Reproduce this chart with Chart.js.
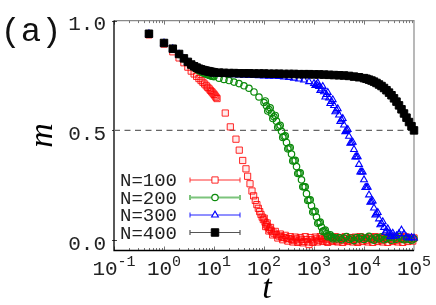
<!DOCTYPE html>
<html><head><meta charset="utf-8">
<script src="https://cdn.jsdelivr.net/npm/chart.js@4/dist/chart.umd.min.js"></script>
<style>html,body{margin:0;padding:0;background:#fff;}canvas{display:block;}</style>
</head><body>
<canvas id="c" width="436" height="305"></canvas>
<script>
// ---------------- data ----------------
const seriesLabels = ['N=100', 'N=200', 'N=300', 'N=400'];

const t100 = [0.5,1,1.5,2,2.5,3,3.5,4,4.5,5,5.5,6,6.5,7,7.5,8,8.5,9,9.5,10,10.5,11,11.5,
  16.8,21.2,27.5,32,37.5,43.6,47,52.5,57.5,62,67,72,77,82,87,92,97,
  105,112,120,130,141,158,178,200,224,251,
  282,316,355,398,447,501,562,631,708,794,
  891,1000,1122,1259,1413,1585,1778,1995,2239,2512,
  2818,3162,3548,3981,4467,5012,5623,6310,7079,7943,
  8913,10000,11220,12590,14130,15850,17780,19950,22390,25120,
  28180,31620,35480,39810,44670,50120,56230,63100,70790,79430,
  89130,100000,
  101,108,116,125,135,149,168,189,212,237,266,299,335,376,
  422,473,531,596,668,750,841,944,1059,1189,1334,1496,1679,1884,2113,2371,2661,2985,3350,3758,
  4217,4732,5309,5957,6683,7499,8414,9441,10593,11885,13338,14965,16788,18836,21135,23714,
  26607,29851,33496,37584,42170,47315,53088,59566,66834,74989,84140,94406];
const m100 = [0.935,0.893,0.858,0.830,0.808,0.788,0.770,0.757,0.746,0.736,0.727,0.719,0.711,0.703,0.696,0.689,0.682,0.676,0.670,0.664,0.657,0.651,0.645,
  0.579,0.516,0.460,0.410,0.363,0.325,0.291,0.257,0.224,0.202,0.181,0.162,0.145,0.130,0.117,0.105,0.094,
  0.082,0.070,0.060,0.050,0.042,0.032,0.025,0.019,0.015,0.012,
  0.009,0.007,0.004,0.000,0.006,-0.004,0.004,-0.006,0.003,-0.020,
  0.002,-0.004,0.006,0.000,0.008,0.002,-0.005,0.006,0.000,0.010,
  -0.003,0.004,0.008,-0.002,0.006,0.000,0.010,0.003,-0.004,0.008,
  0.002,0.006,0.000,0.008,0.003,0.010,0.002,0.006,0.000,0.008,
  0.004,0.010,0.002,0.006,0.000,0.008,0.004,0.010,0.002,0.006,
  0.004,0.010,
  0.100,0.062,0.078,0.042,0.058,0.024,0.040,0.010,0.028,0.002,0.022,-0.004,0.016,-0.008,
  0.014,-0.010,0.012,-0.012,0.016,-0.008,0.012,-0.010,0.014,-0.008,0.016,-0.006,0.012,-0.010,0.014,-0.006,0.016,-0.008,0.012,-0.010,
  0.016,-0.006,0.012,-0.008,0.014,-0.010,0.016,-0.006,0.012,-0.008,0.014,-0.010,0.016,-0.006,0.012,-0.008,
  0.014,-0.010,0.016,-0.006,0.012,-0.008,0.014,-0.010,0.016,-0.006,0.012,-0.004];

const t200 = [0.5,1,1.5,2,2.5,3,3.5,4,4.5,5,5.5,6,6.5,7,7.5,8,8.5,9,9.5,10,
  12.6,15.8,20,25.1,31.6,39.8,50.1,63.1,79.4,
  100,112,126,141,158,178,200,224,251,282,316,355,398,447,501,562,631,708,794,891,
  1000,1122,1259,1413,1585,1778,1995,2239,2512,
  2818,3162,3548,3981,4467,5012,5623,6310,7079,7943,8913,10000,
  11220,12590,14130,15850,17780,19950,22390,25120,28180,31620,
  35480,39810,44670,50120,56230,63100,70790,79430,89130,100000,
  106,119,133,150,168,188,211,237,266,299,335,376,422,473,531,596,668,750,841,944,
  1059,1189,1334,1496,1679,1884,2113,2371];
const m200 = [0.940,0.897,0.871,0.846,0.826,0.809,0.796,0.786,0.778,0.772,0.767,0.763,0.759,0.756,0.753,0.751,0.749,0.747,0.746,0.745,
  0.738,0.732,0.727,0.720,0.713,0.703,0.692,0.675,0.652,
  0.627,0.612,0.595,0.578,0.562,0.542,0.518,0.496,0.472,0.445,0.420,0.392,0.362,0.335,0.306,0.275,0.243,0.212,0.183,0.157,
  0.132,0.105,0.080,0.060,0.043,0.030,0.020,0.015,0.012,
  0.006,0.012,0.002,0.010,0.016,0.004,0.009,-0.002,0.012,0.006,0.014,0.003,
  0.010,0.018,0.005,0.000,0.012,0.007,0.015,0.002,0.008,0.012,
  0.000,0.010,0.004,0.016,0.006,0.002,0.010,0.004,0.000,0.006,
  0.634,0.588,0.603,0.554,0.568,0.514,0.523,0.468,0.475,0.416,0.422,0.361,0.364,0.304,0.307,0.243,0.243,0.181,0.184,0.128,
  0.132,0.077,0.082,0.040,0.046,0.016,0.024,0.006];

const t300 = [0.5,1,1.5,2,2.5,3,3.5,4,4.5,5,5.5,6,6.5,7,7.5,8,8.5,9,9.5,10,
  12.6,15.8,20,25.1,31.6,39.8,50.1,63.1,79.4,100,126,158,200,251,316,398,501,631,794,1000,
  1122,1259,1413,1585,1778,1995,2239,2512,2818,3162,3548,3981,4467,5012,5623,6310,7079,7943,8913,10000,
  11220,12590,14130,15850,17780,19950,22390,25120,28180,31620,35480,39810,44670,50120,56230,63100,70790,79430,89130,100000,
  1059,1189,1334,1496,1679,1884,2113,2371,2661,2985,3350,3758,4217,4732,5309,5957,6683,7499,8414,9441,
  10593,11885,13338,14965,16788,18836,21135,23714,26607,29851,33496,37584];
const m300 = [0.940,0.898,0.872,0.847,0.827,0.811,0.798,0.790,0.783,0.778,0.774,0.771,0.768,0.766,0.764,0.762,0.761,0.760,0.759,0.758,
  0.756,0.755,0.754,0.753,0.752,0.751,0.750,0.750,0.749,0.748,0.747,0.746,0.745,0.743,0.741,0.738,0.734,0.729,0.722,0.714,
  0.708,0.700,0.689,0.676,0.663,0.648,0.632,0.613,0.592,0.570,0.548,0.524,0.500,0.473,0.444,0.413,0.380,0.345,0.310,0.275,
  0.240,0.206,0.175,0.146,0.120,0.097,0.076,0.058,0.043,0.032,0.024,0.018,0.020,0.030,0.046,0.028,0.014,0.010,0.012,0.010,
  0.704,0.716,0.682,0.700,0.652,0.673,0.622,0.640,0.585,0.599,0.541,0.554,0.494,0.504,0.441,0.446,0.379,0.380,0.310,0.310,
  0.240,0.241,0.173,0.178,0.115,0.126,0.070,0.084,0.036,0.052,0.016,0.032];

const t400 = [0.5,1,1.5,2,2.5,3,3.5,4,4.5,5,5.5,6,6.5,7,7.5,8,8.5,9,9.5,10,
  12.6,15.8,20,25.1,31.6,39.8,50.1,63.1,79.4,100,126,158,200,251,316,398,501,631,794,1000,
  1259,1585,1995,2512,3162,3981,5012,6310,7943,10000,
  11220,12590,14130,15850,17780,19950,22390,25120,28180,31620,35480,39810,44670,50120,56230,63100,70790,79430,89130,100000];
const m400 = [0.940,0.898,0.872,0.848,0.828,0.812,0.800,0.792,0.786,0.781,0.778,0.775,0.773,0.771,0.770,0.768,0.767,0.766,0.765,0.764,
  0.763,0.762,0.761,0.761,0.760,0.760,0.760,0.759,0.759,0.759,0.758,0.758,0.758,0.757,0.757,0.757,0.756,0.756,0.756,0.755,
  0.755,0.754,0.753,0.752,0.751,0.750,0.748,0.745,0.742,0.738,
  0.735,0.731,0.727,0.722,0.716,0.709,0.702,0.693,0.683,0.672,0.660,0.646,0.631,0.614,0.596,0.577,0.558,0.538,0.519,0.500];

const xTickExponents = [-1, 0, 1, 2, 3, 4, 5];
const yTickValues = [0, 0.5, 1.0];
const yTickLabels = ['0.0', '0.5', '1.0'];
const referenceLevel = [0.5];
const panelLabel = '(a)';
const xTitle = 't';
const yTitle = 'm';

// ---------------- styles ----------------
const MONO = '"Liberation Mono", "DejaVu Sans Mono", monospace';
const SERIF = '"Liberation Serif", "DejaVu Serif", serif';
const styles = [
  {color: 'rgba(255,0,0,0.85)', fill: 'rgba(255,0,0,0.08)', style: 'rect', r: 4.4, bw: 1, line: '#ff3030', lw: 1},
  {color: '#0b8a0b', fill: 'rgba(0,0,0,0)', style: 'circle', r: 3.2, bw: 1.2, line: '#7cc47c', lw: 2},
  {color: '#0000ff', fill: 'rgba(0,0,0,0)', style: 'triangle', r: 3.9, bw: 1.1, line: '#2020ff', lw: 1},
  {color: '#000000', fill: '#000000', style: 'rect', r: 5.3, bw: 1, line: '#555555', lw: 1.2}
];
const tArr = [t100, t200, t300, t400];
const mArr = [m100, m200, m300, m400];
const drawOrder = [3, 2, 1, 0];

const datasets = seriesLabels.map((lab, i) => ({
  label: lab,
  data: tArr[i].map((t, j) => ({x: t, y: mArr[i][j]})),
  showLine: false,
  pointStyle: styles[i].style,
  pointRadius: styles[i].r,
  pointBorderWidth: styles[i].bw,
  pointBorderColor: styles[i].color,
  pointBackgroundColor: styles[i].fill,
  pointHoverRadius: styles[i].r,
  order: drawOrder[i],
  clip: false
}));
const xMin = Math.pow(10, xTickExponents[0]);
const xMax = Math.pow(10, xTickExponents[xTickExponents.length - 1]);
datasets.push({
  label: 'ref',
  data: [{x: xMin, y: referenceLevel[0]}, {x: xMax, y: referenceLevel[0]}],
  showLine: true,
  borderColor: '#666666',
  borderWidth: 1.4,
  borderDash: [6, 4.5],
  pointRadius: 0,
  order: 10
});

function drawMarker(ctx, st, x, y) {
  ctx.save();
  ctx.lineWidth = st.bw;
  ctx.strokeStyle = st.color;
  ctx.fillStyle = st.fill;
  ctx.beginPath();
  if (st.style === 'rect') {
    const h = st.r * Math.SQRT1_2;
    ctx.rect(x - h, y - h, 2 * h, 2 * h);
  } else if (st.style === 'circle') {
    ctx.arc(x, y, st.r, 0, Math.PI * 2);
  } else {
    const r = st.r;
    ctx.moveTo(x, y - r);
    ctx.lineTo(x + r * Math.sin(2 * Math.PI / 3), y - r * Math.cos(2 * Math.PI / 3));
    ctx.lineTo(x + r * Math.sin(4 * Math.PI / 3), y - r * Math.cos(4 * Math.PI / 3));
    ctx.closePath();
  }
  ctx.fill();
  ctx.stroke();
  ctx.restore();
}

const framePlugin = {
  id: 'frame',
  beforeDatasetsDraw(chart) {
    const {ctx, chartArea: a, scales: {x, y}} = chart;
    ctx.save();
    ctx.strokeStyle = '#8a8a8a';
    ctx.lineWidth = 1.2;
    ctx.beginPath();
    ctx.moveTo(a.left, a.top); ctx.lineTo(a.right, a.top); ctx.lineTo(a.right, a.bottom);
    ctx.stroke();
    ctx.strokeStyle = '#777';
    ctx.lineWidth = 1;
    for (let e = xTickExponents[0]; e < xTickExponents[xTickExponents.length - 1]; e++) {
      for (let k = 1; k <= 9; k++) {
        const px = Math.round(x.getPixelForValue(k * Math.pow(10, e))) + 0.5;
        const len = k === 1 ? 4 : 2.5;
        ctx.beginPath();
        ctx.moveTo(px, a.bottom); ctx.lineTo(px, a.bottom - len);
        ctx.moveTo(px, a.top); ctx.lineTo(px, a.top + len);
        ctx.stroke();
      }
    }
    ctx.strokeStyle = '#444';
    yTickValues.forEach(v => {
      const py = Math.round(y.getPixelForValue(v)) + 0.5;
      ctx.beginPath(); ctx.moveTo(a.left - 2, py); ctx.lineTo(a.left + 3, py); ctx.stroke();
    });
    ctx.strokeStyle = '#000';
    ctx.lineWidth = 1.3;
    ctx.beginPath();
    ctx.moveTo(a.left, a.top); ctx.lineTo(a.left, a.bottom); ctx.lineTo(a.right, a.bottom);
    ctx.stroke();
    ctx.restore();
  },
  afterDraw(chart) {
    const {ctx, chartArea: a, scales: {x}} = chart;
    ctx.save();
    ctx.fillStyle = '#222';
    xTickExponents.forEach(e => {
      const px = x.getPixelForValue(Math.pow(10, e));
      ctx.font = '21px ' + MONO;
      const w1 = ctx.measureText('10').width;
      const es = e < 0 ? '-' + Math.abs(e) : String(e);
      ctx.font = '15px ' + MONO;
      const w2 = ctx.measureText(es).width;
      const sx = px - (w1 + w2) / 2;
      ctx.textAlign = 'left';
      ctx.textBaseline = 'alphabetic';
      ctx.font = '21px ' + MONO;
      ctx.fillText('10', sx, a.bottom + 24.5);
      ctx.font = '15px ' + MONO;
      ctx.fillText(es, sx + w1, a.bottom + 15.5);
    });
    ctx.fillStyle = '#000';
    ctx.font = 'italic 34px ' + SERIF;
    ctx.textAlign = 'center';
    ctx.textBaseline = 'alphabetic';
    ctx.fillText(xTitle, (a.left + a.right) / 2 + 3, a.bottom + 47);
    ctx.save();
    ctx.translate(a.left - 62, (a.top + a.bottom) / 2);
    ctx.rotate(-Math.PI / 2);
    ctx.fillText(yTitle, 0, 0);
    ctx.restore();
    ctx.font = '34px ' + MONO;
    ctx.textAlign = 'center';
    ctx.textBaseline = 'middle';
    ctx.fillStyle = '#111';
    ctx.fillText(panelLabel, 31, a.top + 11);
    seriesLabels.forEach((lab, i) => {
      const st = styles[i];
      const yy = a.bottom - 18 - 17.5 * (seriesLabels.length - 1 - i);
      ctx.font = '19px ' + MONO;
      ctx.fillStyle = '#222';
      ctx.textAlign = 'right';
      ctx.textBaseline = 'middle';
      ctx.fillText(lab, a.left + 63, yy + 1);
      const x0 = a.left + 76, x1 = a.left + 126;
      ctx.strokeStyle = st.line;
      ctx.lineWidth = st.lw;
      ctx.beginPath();
      ctx.moveTo(x0, yy); ctx.lineTo(x1, yy);
      ctx.moveTo(x0, yy - 2.5); ctx.lineTo(x0, yy + 2.5);
      ctx.moveTo(x1, yy - 2.5); ctx.lineTo(x1, yy + 2.5);
      ctx.stroke();
      drawMarker(ctx, Object.assign({}, st, {fill: i === 3 ? '#000' : '#fff'}), (x0 + x1) / 2, yy);
    });
    ctx.restore();
  }
};

new Chart(document.getElementById('c'), {
  type: 'scatter',
  data: {datasets},
  options: {
    responsive: false,
    animation: false,
    devicePixelRatio: 1,
    layout: {padding: {left: 0, right: 22, top: 16.6, bottom: 0}},
    plugins: {legend: {display: false}, tooltip: {enabled: false}},
    scales: {
      x: {
        type: 'logarithmic',
        min: xMin, max: xMax,
        grid: {display: false},
        border: {display: false},
        ticks: {display: false},
        afterFit(s) { s.height = 54.5; }
      },
      y: {
        type: 'linear',
        min: -0.047, max: 1.0,
        grid: {display: false, drawTicks: false},
        border: {display: false},
        afterBuildTicks(s) { s.ticks = yTickValues.map(v => ({value: v})); },
        ticks: {
          font: {family: MONO, size: 21},
          color: '#222',
          padding: 8,
          labelOffset: 4,
          callback: (v) => { const k = yTickValues.indexOf(v); return k >= 0 ? yTickLabels[k] : ''; }
        },
        afterFit(s) { s.width = 114; }
      }
    }
  },
  plugins: [framePlugin]
});
</script>
</body></html>
